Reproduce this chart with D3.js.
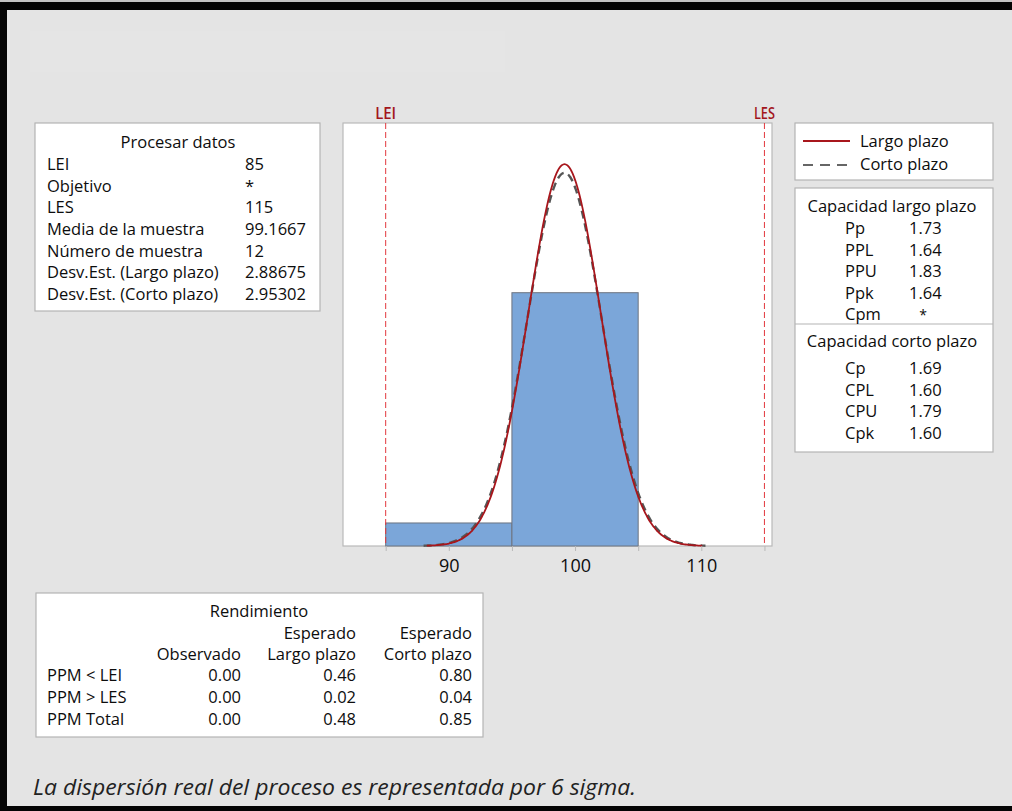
<!DOCTYPE html>
<html>
<head>
<meta charset="utf-8">
<script src="https://cdn.jsdelivr.net/npm/d3@7"></script>
<style>
  html, body { margin: 0; padding: 0; background: #e4e4e4; }
  svg { display: block; }
  text { font-family: "Open Sans", "Noto Sans", sans-serif; fill: #0d0d0d; }
</style>
</head>
<body>
<svg id="chart" width="1012" height="811"></svg>
<script>
// Process data
const LEI = 85;
const LES = 115;
const sampleMean = 99.1667;
const sampleN = 12;
const sdLong = 2.88675;
const sdShort = 2.95302;

// Histogram bins
const binEdges = [85, 95, 105];
const binCounts = [1, 11];

// Axis ticks
const xTicks = [85, 90, 95, 100, 105, 110, 115];
const xTickLabels = [90, 100, 110];

// Text tables
const processLabels = ["LEI", "Objetivo", "LES", "Media de la muestra", "Número de muestra", "Desv.Est. (Largo plazo)", "Desv.Est. (Corto plazo)"];
const processValues = ["85", "*", "115", "99.1667", "12", "2.88675", "2.95302"];

const longCapLabels = ["Pp", "PPL", "PPU", "Ppk", "Cpm"];
const longCapValues = ["1.73", "1.64", "1.83", "1.64", "*"];
const shortCapLabels = ["Cp", "CPL", "CPU", "Cpk"];
const shortCapValues = ["1.69", "1.60", "1.79", "1.60"];

const yieldRows = ["PPM < LEI", "PPM > LES", "PPM Total"];
const yieldObserved = ["0.00", "0.00", "0.00"];
const yieldExpLong = ["0.46", "0.02", "0.48"];
const yieldExpShort = ["0.80", "0.04", "0.85"];

const legendNames = ["Largo plazo", "Corto plazo"];

const FS = "16.5px";
const svg = d3.select("#chart");

// Frame
svg.append("rect").attr("x", 0).attr("y", 0).attr("width", 1012).attr("height", 811).attr("fill", "#e4e4e4");
svg.append("rect").attr("x", 0).attr("y", 0).attr("width", 1012).attr("height", 2).attr("fill", "#c4c4c4");
svg.append("rect").attr("x", 0).attr("y", 2).attr("width", 1012).attr("height", 8).attr("fill", "#050505");
svg.append("rect").attr("x", 0).attr("y", 2).attr("width", 7).attr("height", 809).attr("fill", "#050505");
svg.append("rect").attr("x", 0).attr("y", 806).attr("width", 1012).attr("height", 5).attr("fill", "#050505");
svg.append("rect").attr("x", 30).attr("y", 31).attr("width", 475).attr("height", 41).attr("fill", "#e5e5e5");

// Plot panel
const panel = { left: 343, right: 772, top: 123, bottom: 546 };
const x = d3.scaleLinear().domain([81.62, 115.6]).range([panel.left, panel.right]);
const yMax = 18.37;
const y = d3.scaleLinear().domain([0, yMax]).range([panel.bottom, panel.top]);

svg.append("rect")
  .attr("x", panel.left).attr("y", panel.top)
  .attr("width", panel.right - panel.left).attr("height", panel.bottom - panel.top)
  .attr("fill", "#ffffff").attr("stroke", "#b9b9b9").attr("stroke-width", 1.2);

// Histogram bars
const bins = binCounts.map((c, i) => ({ x0: binEdges[i], x1: binEdges[i + 1], count: c }));
svg.append("g").selectAll("rect").data(bins).join("rect")
  .attr("x", d => x(d.x0))
  .attr("y", d => y(d.count))
  .attr("width", d => x(d.x1) - x(d.x0))
  .attr("height", d => y(0) - y(d.count))
  .attr("fill", "#7ba6d9")
  .attr("stroke", "#6d7480")
  .attr("stroke-width", 1);

// Fitted normal curves scaled to the histogram counts
const binWidth = binEdges[1] - binEdges[0];
function normalCurve(sd) {
  const pts = [];
  const lo = sampleMean - 3.78 * sd, hi = sampleMean + 3.78 * sd;
  for (let i = 0; i <= 200; i++) {
    const v = lo + (hi - lo) * i / 200;
    const z = (v - sampleMean) / sd;
    pts.push([v, sampleN * binWidth * Math.exp(-0.5 * z * z) / (sd * Math.sqrt(2 * Math.PI))]);
  }
  return pts;
}
const line = d3.line().x(d => x(d[0])).y(d => y(d[1])).curve(d3.curveBasis);

svg.append("path").attr("d", line(normalCurve(sdShort)))
  .attr("fill", "none").attr("stroke", "#555555").attr("stroke-width", 2.4)
  .attr("stroke-dasharray", "8,5");
svg.append("path").attr("d", line(normalCurve(sdLong)))
  .attr("fill", "none").attr("stroke", "#a8161c").attr("stroke-width", 1.8);

// Specification limits
const specs = [{ name: "LEI", v: LEI }, { name: "LES", v: LES }];
svg.append("g").selectAll("line").data(specs).join("line")
  .attr("x1", d => x(d.v)).attr("x2", d => x(d.v))
  .attr("y1", panel.top).attr("y2", panel.bottom)
  .attr("stroke", "#e2383e").attr("stroke-width", 1)
  .attr("stroke-dasharray", "6,3");
svg.append("g").selectAll("text").data(specs).join("text")
  .attr("x", d => x(d.v)).attr("y", 119)
  .attr("text-anchor", "middle")
  .attr("textLength", 21).attr("lengthAdjust", "spacingAndGlyphs")
  .style("font-size", "16px")
  .style("font-weight", "600")
  .style("fill", "#a3161c")
  .text(d => d.name);

// X axis
const xAxis = d3.axisBottom(x)
  .tickValues(xTicks)
  .tickSize(5)
  .tickFormat(d => xTickLabels.includes(d) ? d : "");
const gx = svg.append("g").attr("transform", `translate(0,${panel.bottom})`).call(xAxis);
gx.select(".domain").remove();
gx.selectAll(".tick line").attr("stroke", "#b9b9b9");
gx.selectAll(".tick text").attr("dy", "1.02em")
  .style("font-size", "18px").style("fill", "#0d0d0d")
  .style("font-family", "'Open Sans', sans-serif");

// Boxes helper
function box(x0, y0, x1, y1) {
  svg.append("rect").attr("x", x0).attr("y", y0).attr("width", x1 - x0).attr("height", y1 - y0)
    .attr("fill", "#ffffff").attr("stroke", "#b4b4b4").attr("stroke-width", 1.2);
}
function txt(tx, ty, s, anchor) {
  return svg.append("text").attr("x", tx).attr("y", ty)
    .attr("text-anchor", anchor || "start")
    .style("font-size", FS).text(s);
}

// Process data table
box(35, 123, 320, 311);
txt(178, 148, "Procesar datos", "middle");
processLabels.forEach((s, i) => txt(47, 170 + i * 21.67, s));
processValues.forEach((s, i) => txt(245, 170 + i * 21.67, s));

// Legend
box(795, 123, 993, 180);
svg.append("line").attr("x1", 803).attr("x2", 850).attr("y1", 141).attr("y2", 141)
  .attr("stroke", "#a8161c").attr("stroke-width", 1.8);
svg.append("line").attr("x1", 803).attr("x2", 850).attr("y1", 165).attr("y2", 165)
  .attr("stroke", "#666666").attr("stroke-width", 2.2).attr("stroke-dasharray", "10,7");
txt(860, 147, legendNames[0]);
txt(860, 170, legendNames[1]);

// Capability table
box(795, 188, 993, 452);
svg.append("line").attr("x1", 795).attr("x2", 993).attr("y1", 324).attr("y2", 324)
  .attr("stroke", "#b4b4b4").attr("stroke-width", 1.2);
txt(892, 212, "Capacidad largo plazo", "middle");
longCapLabels.forEach((s, i) => txt(845, 234 + i * 21.5, s));
longCapValues.forEach((s, i) => s === "*"
  ? txt(923, 234 + i * 21.5, s, "middle").style("font-size", "14px")
  : txt(909, 234 + i * 21.5, s));
txt(892, 347, "Capacidad corto plazo", "middle");
shortCapLabels.forEach((s, i) => txt(845, 374 + i * 21.67, s));
shortCapValues.forEach((s, i) => txt(909, 374 + i * 21.67, s));

// Yield table
box(36, 593, 483, 737);
txt(259, 617, "Rendimiento", "middle");
txt(356, 639, "Esperado", "end");
txt(472, 639, "Esperado", "end");
txt(241, 660, "Observado", "end");
txt(356, 660, "Largo plazo", "end");
txt(472, 660, "Corto plazo", "end");
yieldRows.forEach((s, i) => {
  const ty = 681 + i * 22;
  txt(47, ty, s);
  txt(241, ty, yieldObserved[i], "end");
  txt(356, ty, yieldExpLong[i], "end");
  txt(472, ty, yieldExpShort[i], "end");
});

// Footnote
svg.append("text").attr("x", 33).attr("y", 795)
  .attr("textLength", 603).attr("lengthAdjust", "spacingAndGlyphs")
  .style("font-size", "22px").style("font-style", "italic")
  .style("fill", "#222222")
  .text("La dispersión real del proceso es representada por 6 sigma.");
</script>
</body>
</html>
